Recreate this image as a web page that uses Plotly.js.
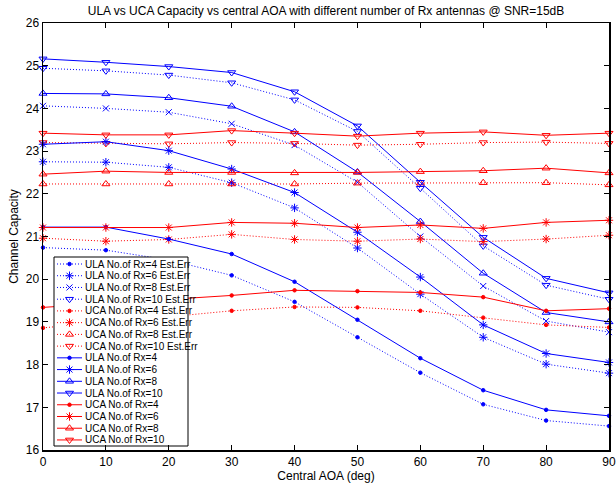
<!DOCTYPE html>
<html>
<head>
<meta charset="utf-8">
<script src="https://cdn.plot.ly/plotly-3.0.1.min.js"></script>
<style>html,body{margin:0;padding:0;background:#fff;}#chart{width:616px;height:483px;}</style>
</head>
<body>
<div id="chart"></div>
<script>
// ---------- data ----------
const aoa = [0, 10, 20, 30, 40, 50, 60, 70, 80, 90];

const ulaEst4  = [20.74, 20.68, 20.45, 20.09, 19.47, 18.64, 17.81, 17.07, 16.69, 16.56];
const ulaEst6  = [22.75, 22.74, 22.62, 22.26, 21.67, 20.73, 19.65, 18.64, 18.01, 17.80];
const ulaEst8  = [24.06, 24.00, 23.91, 23.64, 23.14, 22.27, 21.00, 19.84, 19.02, 18.76];
const ulaEst10 = [24.94, 24.88, 24.78, 24.60, 24.20, 23.46, 22.13, 20.78, 19.86, 19.53];
const ucaEst4  = [18.86, 19.00, 19.12, 19.26, 19.35, 19.34, 19.26, 19.10, 18.93, 18.87];
const ucaEst6  = [20.96, 20.89, 20.93, 21.05, 20.93, 20.89, 20.94, 20.88, 20.94, 21.03];
const ucaEst8  = [22.23, 22.23, 22.23, 22.23, 22.23, 22.25, 22.25, 22.26, 22.26, 22.21];
const ucaEst10 = [23.20, 23.18, 23.17, 23.20, 23.18, 23.14, 23.16, 23.20, 23.21, 23.18];
const ula4  = [21.22, 21.22, 20.94, 20.59, 19.94, 19.05, 18.15, 17.40, 16.94, 16.80];
const ula6  = [23.16, 23.22, 23.01, 22.58, 22.03, 21.10, 20.05, 18.93, 18.26, 18.05];
const ula8  = [24.35, 24.34, 24.25, 24.05, 23.45, 22.51, 21.35, 20.14, 19.22, 19.00];
const ula10 = [25.16, 25.08, 24.98, 24.84, 24.39, 23.59, 22.27, 20.98, 20.02, 19.68];
const uca4  = [19.34, 19.43, 19.52, 19.62, 19.74, 19.72, 19.69, 19.58, 19.26, 19.31];
const uca6  = [21.21, 21.21, 21.21, 21.33, 21.31, 21.21, 21.27, 21.19, 21.33, 21.38];
const uca8  = [22.46, 22.53, 22.50, 22.50, 22.49, 22.50, 22.52, 22.54, 22.60, 22.49];
const uca10 = [23.42, 23.38, 23.38, 23.48, 23.42, 23.35, 23.42, 23.45, 23.37, 23.42];

const seriesNames = [
  'ULA No.of Rx=4 Est.Err', 'ULA No.of Rx=6 Est.Err', 'ULA No.of Rx=8 Est.Err', 'ULA No.of Rx=10 Est.Err',
  'UCA No.of Rx=4 Est.Err', 'UCA No.of Rx=6 Est.Err', 'UCA No.of Rx=8 Est.Err', 'UCA No.of Rx=10 Est.Err',
  'ULA No.of Rx=4', 'ULA No.of Rx=6', 'ULA No.of Rx=8', 'ULA No.of Rx=10',
  'UCA No.of Rx=4', 'UCA No.of Rx=6', 'UCA No.of Rx=8', 'UCA No.of Rx=10'
];
const seriesValues = [ulaEst4, ulaEst6, ulaEst8, ulaEst10, ucaEst4, ucaEst6, ucaEst8, ucaEst10,
                      ula4, ula6, ula8, ula10, uca4, uca6, uca8, uca10];

const xTitle = 'Central AOA (deg)';
const yTitle = 'Channel Capacity';
const chartTitle = 'ULA vs UCA Capacity vs central AOA with different number of Rx antennas @ SNR=15dB';

// ---------- styles ----------
const BLUE = '#0000ff', RED = '#ff0000';
const DOT = '1px,2px';
const styles = [
  {c: BLUE, d: DOT, s: 'circle', z: 3.5},
  {c: BLUE, d: DOT, s: 'asterisk-open', z: 7},
  {c: BLUE, d: DOT, s: 'x-thin-open', z: 6},
  {c: BLUE, d: DOT, s: 'triangle-down-open', z: 7},
  {c: RED, d: DOT, s: 'circle', z: 3.5},
  {c: RED, d: DOT, s: 'asterisk-open', z: 7},
  {c: RED, d: DOT, s: 'triangle-up-open', z: 7},
  {c: RED, d: DOT, s: 'triangle-down-open', z: 7},
  {c: BLUE, d: 'solid', s: 'circle', z: 3.5},
  {c: BLUE, d: 'solid', s: 'asterisk-open', z: 7},
  {c: BLUE, d: 'solid', s: 'triangle-up-open', z: 7},
  {c: BLUE, d: 'solid', s: 'triangle-down-open', z: 7},
  {c: RED, d: 'solid', s: 'circle', z: 3.5},
  {c: RED, d: 'solid', s: 'asterisk-open', z: 7},
  {c: RED, d: 'solid', s: 'triangle-up-open', z: 7},
  {c: RED, d: 'solid', s: 'triangle-down-open', z: 7}
];

const FONT = 'Liberation Sans, Arial, Helvetica, sans-serif';
const traces = [];
seriesValues.forEach((vals, i) => {
  const st = styles[i];
  traces.push({
    x: aoa, y: vals, name: seriesNames[i], type: 'scatter', mode: 'lines+markers',
    line: {color: st.c, width: 1, dash: st.d},
    marker: {symbol: st.s, size: st.z, color: st.c, line: {color: st.c, width: 1}},
    showlegend: false, cliponaxis: false
  });
});

// ---------- custom MATLAB-style legend (overlay pixel axes) ----------
const L = 43, R = 609, T = 23, B = 450;
const box = {x0: 54, x1: 188, y0: 257, y1: 446};
const row0 = 264, rowStep = 11.73;
traces.push({
  x: [box.x0, box.x1, box.x1, box.x0, box.x0], y: [box.y0, box.y0, box.y1, box.y1, box.y0],
  xaxis: 'x2', yaxis: 'y2', mode: 'lines', fill: 'toself', fillcolor: '#ffffff',
  line: {color: '#000000', width: 1}, showlegend: false, hoverinfo: 'skip'
});
const annotations = [];
seriesNames.forEach((nm, i) => {
  const st = styles[i];
  const yy = row0 + i * rowStep;
  traces.push({
    x: [57, 82], y: [yy, yy], xaxis: 'x2', yaxis: 'y2', mode: 'lines',
    line: {color: st.c, width: 1, dash: st.d}, showlegend: false, hoverinfo: 'skip'
  });
  traces.push({
    x: [69.5], y: [yy], xaxis: 'x2', yaxis: 'y2', mode: 'markers',
    marker: {symbol: st.s, size: st.z, color: st.c, line: {color: st.c, width: 1}},
    showlegend: false, hoverinfo: 'skip'
  });
  annotations.push({
    x: 83, y: yy, xref: 'x2', yref: 'y2', text: nm, showarrow: false,
    xanchor: 'left', yanchor: 'middle', font: {family: FONT, size: 10, color: '#000'}
  });
});

const layout = {
  width: 616, height: 483,
  margin: {l: L, r: 616 - R, t: T, b: 483 - B, pad: 0},
  paper_bgcolor: '#ffffff', plot_bgcolor: '#ffffff',
  font: {family: FONT, size: 12, color: '#000'},
  showlegend: false,
  title: {text: chartTitle, font: {family: FONT, size: 12, color: '#000'},
          x: (L + R) / 2 / 616, xanchor: 'center', y: 1 - 11 / 483, yanchor: 'middle'},
  xaxis: {
    range: [0, 90], tick0: 0, dtick: 10, ticks: 'inside', ticklen: 5, tickcolor: '#000',
    showline: true, linecolor: '#000', linewidth: 1.5, mirror: 'ticks', showgrid: false, zeroline: false,
    tickfont: {family: FONT, size: 12, color: '#000'},
    title: {text: xTitle, font: {family: FONT, size: 12, color: '#000'}, standoff: 4}, automargin: false
  },
  yaxis: {
    range: [16, 26], tick0: 16, dtick: 1, ticks: 'inside', ticklen: 5, tickcolor: '#000',
    showline: true, linecolor: '#000', linewidth: 1.5, mirror: 'ticks', showgrid: false, zeroline: false,
    tickfont: {family: FONT, size: 12, color: '#000'},
    title: {text: yTitle, font: {family: FONT, size: 12, color: '#000'}, standoff: 4}, automargin: false
  },
  xaxis2: {overlaying: 'x', range: [L, R], visible: false, fixedrange: true},
  yaxis2: {overlaying: 'y', range: [B, T], visible: false, fixedrange: true},
  annotations: annotations,
  hovermode: false
};

Plotly.newPlot('chart', traces, layout, {staticPlot: true, displayModeBar: false});
</script>
</body>
</html>
